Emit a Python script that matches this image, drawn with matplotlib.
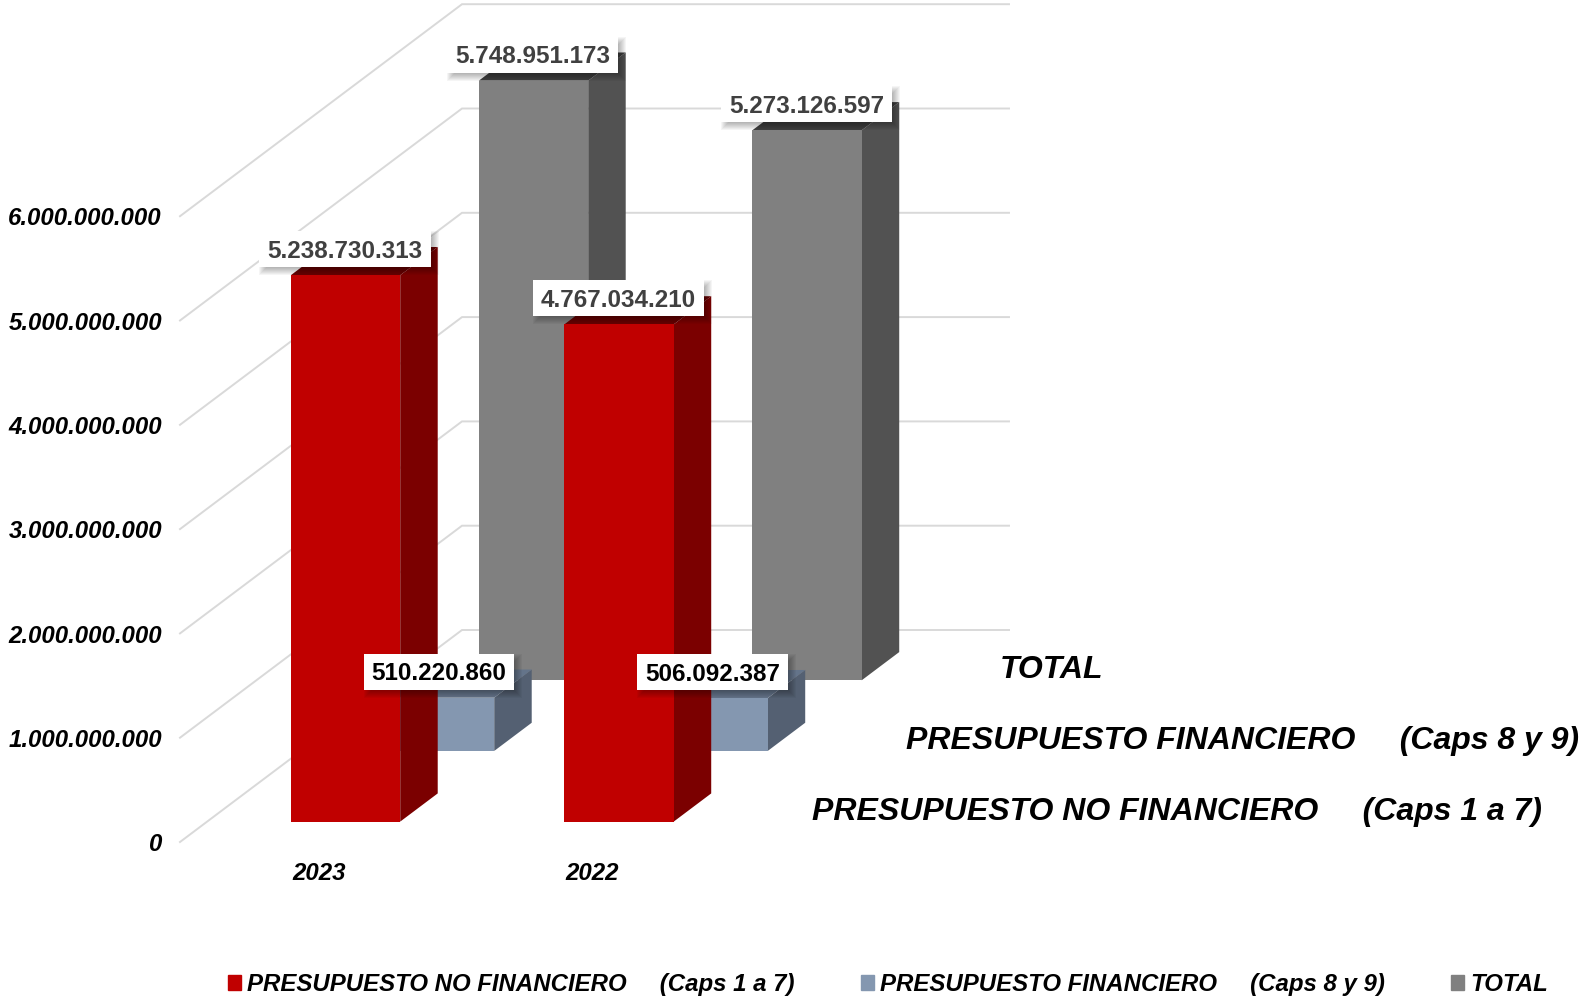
import matplotlib
matplotlib.use('Agg')
import matplotlib.pyplot as plt
from matplotlib.patches import Patch, Rectangle
from matplotlib.transforms import IdentityTransform

plt.rcParams['font.family'] = ['Liberation Sans', 'DejaVu Sans']

# data
categories = ['2023', '2022']
no_financiero = [5238730313, 4767034210]
financiero = [510220860, 506092387]
total = [5748951173, 5273126597]
value_ticks = [0, 1000000000, 2000000000, 3000000000, 4000000000, 5000000000, 6000000000]
tick_labels = ['0', '1.000.000.000', '2.000.000.000', '3.000.000.000',
               '4.000.000.000', '5.000.000.000', '6.000.000.000']
label_no_fin = 'PRESUPUESTO NO FINANCIERO     (Caps 1 a 7)'
label_fin = 'PRESUPUESTO FINANCIERO     (Caps 8 y 9)'
label_total = 'TOTAL'

# escala: pixeles por categoria y por unidad
PX_CAT = 273.5
PX_VAL = 104.3e-9
# profundidad del falso 3D en unidades de datos
DEPTH_X = 282 / PX_CAT
DEPTH_Y = 212 / PX_VAL
BAR_W = 0.4
BAR_D = 0.133


def shift(x, y, t):
    return x + t * DEPTH_X, y + t * DEPTH_Y


def draw_bar(ax, x, value, t, front, side, top, z):
    x0, x1 = x - BAR_W / 2, x + BAR_W / 2
    near = t
    far = t + BAR_D
    corners = lambda xx, yy: [shift(xx, yy, near), shift(xx, yy, far)]
    a, b = corners(x1, 0)
    c, d = corners(x1, value)
    ax.fill(*zip(a, b, d, c), color=side, lw=0, zorder=z)
    e, f = corners(x0, value)
    ax.fill(*zip(e, c, d, f), color=top, lw=0, zorder=z)
    g = shift(x0, 0, near)
    ax.fill(*zip(g, a, c, e), color=front, lw=0, zorder=z)


def value_label(ax, x, value, t, text, color):
    xx, yy = shift(x, value, t)
    return ax.annotate(text, (xx, yy), xytext=(0, 17.3), textcoords='offset points',
                       ha='center', va='center', fontsize=17.5, fontweight='bold', color=color,
                       zorder=20)


def label_box(ax, ann):
    # caja blanca y sombra difusa, en pixeles
    ext = ann.get_window_extent()
    cy = (ext.y0 + ext.y1) / 2
    x0, y0 = ext.x0 - 8, cy - 16
    w, h = ext.width + 16, 36
    for grow in range(-3, 5):
        ax.add_patch(Rectangle((x0 + 4 - grow, y0 - 4 - grow), w + 2 * grow, h + 2 * grow,
                               transform=IdentityTransform(), fc='black', ec='none',
                               alpha=0.04, zorder=18))
    ax.add_patch(Rectangle((x0, y0), w, h, transform=IdentityTransform(),
                           fc='white', ec='none', zorder=19))


def create_chart():
    fig = plt.figure(figsize=(15.8, 9.99), dpi=100)
    ax = fig.add_axes([0, 0, 1, 1])
    ax.set_xlim(-180 / PX_CAT, 1400 / PX_CAT)
    ax.set_ylim(-157 / PX_VAL, 842 / PX_VAL)
    ax.axis('off')

    n_cat = len(categories)

    # rejilla: diagonal lateral y pared del fondo
    for v, lab in zip(value_ticks, tick_labels):
        p0 = shift(0, v, 0)
        p1 = shift(0, v, 1)
        p2 = shift(n_cat, v, 1)
        ax.plot(*zip(p0, p1, p2), color='#d9d9d9', lw=1.4, zorder=1, solid_joinstyle='miter')
        ax.annotate(lab, (0, v), xytext=(-13, -2), textcoords='offset points',
                    ha='right', va='center', fontsize=17.3, fontweight='bold',
                    fontstyle='italic', color='black')

    # barras, de atras hacia delante
    series = [
        (total, 5 / 6, '#808080', '#525252', '#404040', '#404040', label_total),
        (financiero, 1 / 2, '#8497b0', '#546072', '#64748a', 'black', label_fin),
        (no_financiero, 1 / 6, '#c00000', '#7b0000', '#660000', '#404040', label_no_fin),
    ]
    for i, (values, depth, front, side, top, txt, name) in enumerate(series):
        t = depth - BAR_D / 2 - 0.004
        for k, val in enumerate(values):
            draw_bar(ax, k + 0.506, val, t, front, side, top, 3 + i)
        # nombre de la serie en el eje de profundidad
        xx, yy = shift(n_cat, 0, depth)
        ax.annotate(name, (xx, yy), xytext=(27, -3.5), textcoords='offset points',
                    ha='left', va='center', fontsize=23, fontweight='bold',
                    fontstyle='italic', color='black')

    labels = []
    for values, depth, front, side, top, txt, name in series:
        t = depth - BAR_D / 2 - 0.004
        for k, val in enumerate(values):
            text = f'{val:,}'.replace(',', '.')
            labels.append(value_label(ax, k + 0.504, val, t, text, txt))

    # categorias
    for k, cat in enumerate(categories):
        ax.annotate(cat, (k + 0.5, 0), xytext=(1.5, -23), textcoords='offset points',
                    ha='center', va='center', fontsize=17.3, fontweight='bold',
                    fontstyle='italic', color='black')

    handles = [Patch(color='#c00000', label=label_no_fin),
               Patch(color='#8497b0', label=label_fin),
               Patch(color='#808080', label=label_total)]
    fig.legend(handles=handles, ncol=3, loc='center left', bbox_to_anchor=(0.1442, 0.0145),
               frameon=False, handlelength=0.55, handleheight=0.55, handletextpad=0.25,
               columnspacing=2.75, borderpad=0, borderaxespad=0,
               prop=dict(size=17.3, weight='bold', style='italic'))

    # el tamano real del texto solo se conoce despues de dibujar
    fig.canvas.draw()
    for ann in labels:
        label_box(ax, ann)

    fig.savefig('out.png', dpi=100)
    plt.close(fig)


if __name__ == "__main__":
    create_chart()
